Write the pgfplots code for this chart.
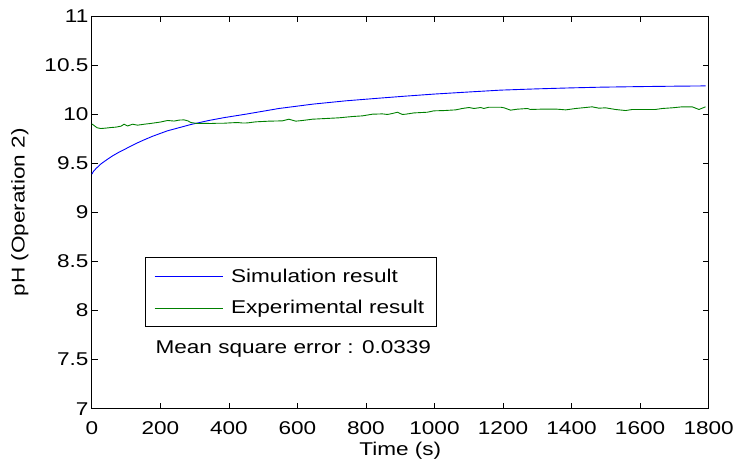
\documentclass[border=0pt]{standalone}
\usepackage{fontspec}
\setmainfont{Liberation Sans}[FakeStretch=1.22]
\usepackage{pgfplots}
\pgfplotsset{compat=1.18}
\definecolor{mblue}{rgb}{0,0,1}
\definecolor{mgreen}{rgb}{0,0.5,0}
\begin{document}
\begin{tikzpicture}
\begin{axis}[
  width=617bp, height=393bp, scale only axis,
  xmin=0, xmax=1800, ymin=7, ymax=11,
  xtick={0,200,...,1800},
  ytick={7,7.5,...,11},
  major tick length=6bp,
  axis line style={line width=0.8bp},
  every tick/.style={line width=0.8bp, black},
  font=\fontsize{18.5bp}{22bp}\selectfont,
  /pgf/number format/assume math mode=true,
  /pgf/number format/1000 sep={},
  xticklabel style={yshift=-9bp},
  xlabel={Time (s)},
  ylabel={pH (Operation 2)},
  xlabel style={at={(axis description cs:0.5,-0.107)},anchor=center},
  ylabel style={at={(axis description cs:-0.117,0.5)},anchor=center},
  clip=false,
  legend cell align=left,
  legend style={at={(axis description cs:0.0859,0.2087)}, anchor=south west,
    draw, line width=0.8bp, inner xsep=9bp, inner ysep=8bp, row sep=11bp,
    column sep=5bp,
    nodes={inner xsep=3bp, inner ysep=3bp},
    font=\fontsize{18.5bp}{22bp}\selectfont},
  legend image code/.code={\draw[#1] (0bp,0bp) -- (68bp,0bp);},
]
\addplot[mblue, line width=0.9bp] coordinates {
(0,9.39) (5,9.42) (12,9.446) (25,9.49) (41,9.53) (60,9.575) (80,9.615)
(100,9.65) (128,9.70) (150,9.735) (177,9.775) (220,9.83) (289,9.895)
(340,9.935) (386,9.965) (449,10.0) (546,10.058) (644,10.102) (741,10.136)
(838,10.163) (916,10.184) (1000,10.205) (1100,10.226) (1193,10.245)
(1300,10.258) (1400,10.268) (1485,10.275) (1600,10.281) (1700,10.285) (1791,10.288)
};
\addlegendentry{Simulation result}
\addplot[mgreen, line width=0.9bp] coordinates {
(0,9.90) (5,9.888) (15,9.862) (26,9.854) (40,9.858) (55,9.864) (70,9.868) (85,9.878)
(94,9.898) (104,9.880) (119,9.898) (133,9.888) (153,9.898) (170,9.905) (182,9.911)
(200,9.92) (221,9.936) (240,9.930) (255,9.940) (269,9.942) (280,9.932) (289,9.915)
(308,9.905) (330,9.907) (347,9.905) (366,9.908) (386,9.908) (405,9.912) (425,9.915)
(440,9.910) (454,9.911) (478,9.922) (517,9.929) (556,9.932) (575,9.949) (595,9.929)
(615,9.936) (644,9.949) (683,9.956) (721,9.963) (760,9.976) (790,9.983) (819,10.0)
(848,10.003) (863,9.997) (877,10.007) (892,10.02) (906,9.997) (916,10.0) (940,10.013)
(979,10.02) (998,10.034) (1028,10.037) (1062,10.044) (1081,10.058) (1101,10.068)
(1115,10.058) (1135,10.068) (1144,10.058) (1159,10.071) (1193,10.071) (1203,10.065)
(1222,10.041) (1242,10.051) (1271,10.058) (1280,10.048) (1310,10.051) (1358,10.051)
(1383,10.044) (1412,10.058) (1441,10.068) (1460,10.075) (1480,10.061) (1499,10.065)
(1528,10.048) (1558,10.037) (1577,10.048) (1606,10.048) (1645,10.048) (1665,10.058)
(1694,10.065) (1723,10.075) (1752,10.075) (1772,10.048) (1791,10.075)
};
\addlegendentry{Experimental result}
\node[anchor=base] at (axis cs:588,7.561) {Mean square error : 0.0339};
\path (rel axis cs:-0.149,-0.1578) rectangle (rel axis cs:1.0454,1.0407);
\end{axis}
\end{tikzpicture}
\end{document}
